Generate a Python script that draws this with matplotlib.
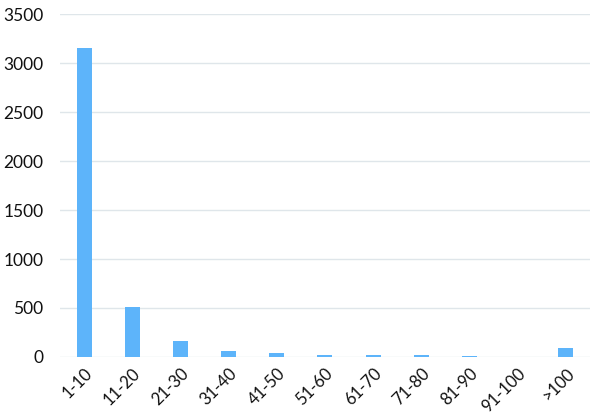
import matplotlib
matplotlib.use("Agg")
import matplotlib.pyplot as plt

categories = ["1-10", "11-20", "21-30", "31-40", "41-50", "51-60", "61-70", "71-80", "81-90", "91-100", ">100"]
values = [3150, 510, 158, 65, 36, 20, 20, 20, 10, 0, 92]
yticks = [0, 500, 1000, 1500, 2000, 2500, 3000, 3500]

plt.rcParams['font.family'] = ['Lato', 'DejaVu Sans']

fig = plt.figure(figsize=(6, 4.17), dpi=100)
ax = fig.add_axes([0.1, 0.144, 0.883, 0.822])
x = list(range(len(categories)))
ax.bar(x, values, width=0.31, color="#5db4fa", zorder=3)
ax.set_xlim(-0.5, len(categories) - 0.5)
ax.set_ylim(0, 3500)
ax.set_yticks(yticks)
ax.set_yticklabels([str(v) for v in yticks], fontsize=12.5, color="#111111")
ax.set_xticks(x)
ax.set_xticklabels(categories, rotation=45, ha="right", rotation_mode="anchor", fontsize=12, color="#111111")
ax.grid(axis="y", color="#dfe6ea", linewidth=1, zorder=0)
for s in ax.spines.values():
    s.set_visible(False)
ax.tick_params(axis="both", length=0)
ax.tick_params(axis="y", pad=12)
ax.tick_params(axis="x", pad=6)
fig.savefig("out.png", dpi=100)
